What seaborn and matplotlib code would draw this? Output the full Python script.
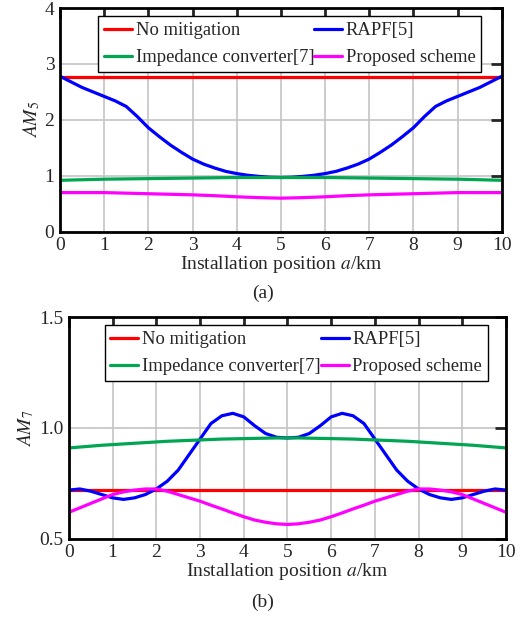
import numpy as np
import pandas as pd
import matplotlib
matplotlib.use("Agg")
import matplotlib.pyplot as plt
import seaborn as sns

# position along the line (km)
pos = [0, 0.5, 1, 1.5, 2, 2.5, 3, 3.5, 4, 4.5, 5, 5.5, 6, 6.5, 7, 7.5, 8, 8.5, 9, 9.5, 10]
pos_fine = [0, 0.25, 0.5, 0.75, 1, 1.25, 1.5, 1.75, 2, 2.25, 2.5, 2.75, 3, 3.25, 3.5, 3.75, 4,
            4.25, 4.5, 4.75, 5, 5.25, 5.5, 5.75, 6, 6.25, 6.5, 6.75, 7, 7.25, 7.5, 7.75, 8,
            8.25, 8.5, 8.75, 9, 9.25, 9.5, 9.75, 10]

series_names = ["No mitigation", "RAPF[5]", "Impedance converter[7]", "Proposed scheme"]
colors = ["#ff0000", "#0000ff", "#00a651", "#ff00ff"]

# (a) AM5
am5_none = [2.76] * 21
am5_rapf = [2.78, 2.68, 2.58, 2.50, 2.42, 2.34, 2.24, 2.06, 1.86, 1.70, 1.55, 1.42, 1.30,
            1.21, 1.14, 1.08, 1.04, 1.01, 0.99, 0.975, 0.97, 0.975, 0.99, 1.01, 1.04, 1.08,
            1.14, 1.21, 1.30, 1.42, 1.55, 1.70, 1.86, 2.06, 2.24, 2.34, 2.42, 2.50, 2.58,
            2.68, 2.78]
am5_imp = [0.92, 0.93, 0.94, 0.945, 0.95, 0.955, 0.96, 0.965, 0.97, 0.97, 0.97,
           0.97, 0.97, 0.965, 0.96, 0.955, 0.95, 0.945, 0.94, 0.93, 0.92]
am5_prop = [0.70, 0.70, 0.70, 0.69, 0.68, 0.67, 0.66, 0.645, 0.625, 0.61, 0.60,
            0.61, 0.625, 0.645, 0.66, 0.67, 0.68, 0.69, 0.70, 0.70, 0.70]

# (b) AM7
am7_none = [0.72] * 41
am7_rapf = [0.72, 0.725, 0.715, 0.70, 0.685, 0.678, 0.685, 0.70, 0.725, 0.76, 0.81, 0.88,
            0.95, 1.02, 1.055, 1.066, 1.05, 1.01, 0.975, 0.958, 0.955, 0.958, 0.975, 1.01,
            1.05, 1.066, 1.055, 1.02, 0.95, 0.88, 0.81, 0.76, 0.725, 0.70, 0.685, 0.678,
            0.685, 0.70, 0.715, 0.725, 0.72]
am7_imp = [0.91, 0.914, 0.918, 0.922, 0.925, 0.928, 0.931, 0.934, 0.937, 0.94, 0.942, 0.944,
           0.946, 0.948, 0.95, 0.951, 0.952, 0.953, 0.954, 0.955, 0.955, 0.955, 0.954, 0.953,
           0.952, 0.951, 0.95, 0.948, 0.946, 0.944, 0.942, 0.94, 0.937, 0.934, 0.931, 0.928,
           0.925, 0.922, 0.918, 0.914, 0.91]
am7_prop = [0.62, 0.64, 0.66, 0.68, 0.70, 0.712, 0.72, 0.725, 0.725, 0.715, 0.70, 0.685,
            0.67, 0.652, 0.635, 0.617, 0.60, 0.585, 0.575, 0.568, 0.565, 0.568, 0.575, 0.585,
            0.60, 0.617, 0.635, 0.652, 0.67, 0.685, 0.70, 0.715, 0.725, 0.725, 0.72, 0.712,
            0.70, 0.68, 0.66, 0.64, 0.62]


def long_df(series):
    frames = []
    for name, (x, v) in zip(series_names, series):
        frames.append(pd.DataFrame({"x": x, "y": v, "series": name}))
    return pd.concat(frames, ignore_index=True)


df_a = long_df([(pos, am5_none), (pos_fine, am5_rapf), (pos, am5_imp), (pos, am5_prop)])
df_b = long_df([(pos_fine, am7_none), (pos_fine, am7_rapf), (pos_fine, am7_imp),
                (pos_fine, am7_prop)])

sns.set_style("white")
plt.rcParams["font.family"] = ["Liberation Serif", "DejaVu Serif"]
plt.rcParams["mathtext.fontset"] = "stix"
plt.rcParams["font.size"] = 14

fig = plt.figure(figsize=(5.26, 6.18), dpi=100)
ax_a = fig.add_axes([0.114, 0.625, 0.840, 0.362])
ax_b = fig.add_axes([0.131, 0.128, 0.831, 0.359])

palette = dict(zip(series_names, colors))
# legend is filled column-wise: rows read "No mitigation | RAPF", "Impedance | Proposed"
legend_order = ["No mitigation", "Impedance converter[7]", "RAPF[5]", "Proposed scheme"]


def style_axes(ax, ylim, yticks, yticklabels, ylabel):
    ax.set_xlim(0, 10)
    ax.set_ylim(*ylim)
    ax.set_xticks(range(0, 11))
    ax.set_yticks(yticks)
    ax.set_yticklabels(yticklabels)
    ax.grid(True, color="#c4c4c4", linewidth=1.2)
    ax.set_axisbelow(True)
    for sp in ax.spines.values():
        sp.set_linewidth(2)
        sp.set_color("black")
    ax.tick_params(direction="in", length=8, width=2, top=True, right=True,
                   labelsize=14, pad=4)
    ax.set_xlabel("Installation position $a$/km", fontsize=14, labelpad=0)
    ax.set_ylabel(ylabel, fontsize=14, labelpad=2)
    handles, labels = ax.get_legend_handles_labels()
    lookup = dict(zip(labels, handles))
    leg = ax.legend([lookup[n] for n in legend_order], legend_order,
                    loc="upper center", ncol=2, frameon=True, fancybox=False,
                    edgecolor="black", fontsize=13.4, handlelength=1.5,
                    handletextpad=0.2, columnspacing=0.0, borderpad=0.3,
                    labelspacing=0.55, borderaxespad=0.45,
                    bbox_to_anchor=(0.52, 1.0))
    leg.get_frame().set_linewidth(1.0)
    leg.get_frame().set_alpha(1)


sns.lineplot(data=df_a, x="x", y="y", hue="series", hue_order=series_names,
             palette=palette, linewidth=2.3, ax=ax_a)
style_axes(ax_a, (0, 4), [0, 1, 2, 3, 4], ["0", "1", "2", "3", "4"], "$AM_5$")

sns.lineplot(data=df_b, x="x", y="y", hue="series", hue_order=series_names,
             palette=palette, linewidth=2.3, ax=ax_b)
style_axes(ax_b, (0.5, 1.5), [0.5, 1.0, 1.5], ["0.5", "1.0", "1.5"], "$AM_7$")

fig.text(0.5, 0.526, "(a)", ha="center", va="center", fontsize=14)
fig.text(0.5, 0.026, "(b)", ha="center", va="center", fontsize=14)

fig.savefig("out.png", dpi=100)
